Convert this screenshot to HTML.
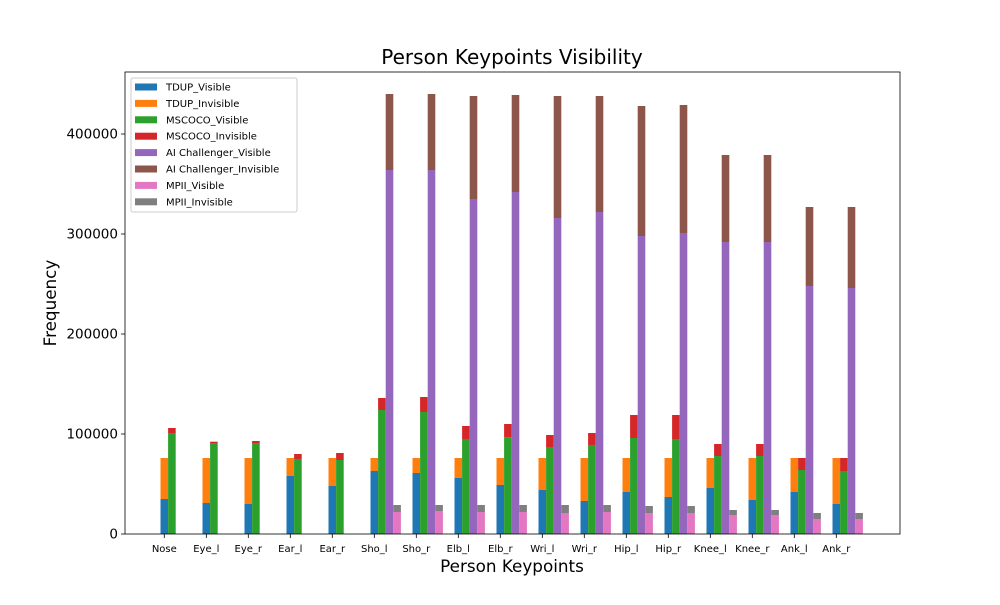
<!DOCTYPE html>
<html><head><meta charset="utf-8"><style>
body{margin:0;background:#fff;font-family:"Liberation Sans","DejaVu Sans",sans-serif}
svg text{font-family:"DejaVu Sans","Liberation Sans",sans-serif}
</style></head><body>
<svg id="c" width="1000" height="600" xmlns="http://www.w3.org/2000/svg"></svg>
<script>
const categories=["Nose","Eye_l","Eye_r","Ear_l","Ear_r","Sho_l","Sho_r","Elb_l","Elb_r","Wri_l","Wri_r","Hip_l","Hip_r","Knee_l","Knee_r","Ank_l","Ank_r"];
const tdupVisible=[35000,31000,30000,58000,48000,63000,61000,56000,49000,44000,33000,42000,37000,46000,34000,42000,30000];
const tdupInvisible=[41000,45000,46000,18000,28000,13000,15000,20000,27000,32000,43000,34000,39000,30000,42000,34000,46000];
const mscocoVisible=[100300,90300,90300,75000,74000,124000,122000,95000,96700,87000,89000,96000,95000,78000,78000,64000,63000];
const mscocoInvisible=[5700,2000,2700,5000,7000,12000,15000,13000,13300,12000,12000,23000,24000,12000,12000,12000,13000];
const aiVisible=[0,0,0,0,0,364000,364000,335000,342000,316000,322000,298000,301000,292000,292000,248000,246000];
const aiInvisible=[0,0,0,0,0,76000,76000,103000,97000,122000,116000,130000,128000,87000,87000,79000,81000];
const mpiiVisible=[0,0,0,0,0,22000,23000,22000,22000,21000,22000,21000,21000,19000,19000,15000,15000];
const mpiiInvisible=[0,0,0,0,0,7000,6000,7000,7000,8000,7000,7000,7000,5000,5000,6000,6000];
const yTicks=[0,100000,200000,300000,400000];
const seriesNames=["TDUP_Visible","TDUP_Invisible","MSCOCO_Visible","MSCOCO_Invisible","AI Challenger_Visible","AI Challenger_Invisible","MPII_Visible","MPII_Invisible"];
const colors=["#1f77b4","#ff7f0e","#2ca02c","#d62728","#9467bd","#8c564b","#e377c2","#7f7f7f"];

const NS="http://www.w3.org/2000/svg",svg=document.getElementById('c');
const L=125,R=900,T=72,B=534;
const y=v=>B-v/1000;
const x=i=>164.3+i*42;
const bw=7.6;
function mk(t,a,p){const e=document.createElementNS(NS,t);for(const k in a)e.setAttribute(k,a[k]);(p||svg).appendChild(e);return e;}

let t=mk('text',{x:512,y:64,'text-anchor':'middle','font-size':20});t.textContent="Person Keypoints Visibility";


const groups=[[tdupVisible,tdupInvisible],[mscocoVisible,mscocoInvisible],[aiVisible,aiInvisible],[mpiiVisible,mpiiInvisible]];
const gnames=["tdup","mscoco","ai-challenger","mpii"];
categories.forEach((c,i)=>{
  groups.forEach((g,gi)=>{
    const bx=x(i)-bw/2+gi*bw;
    const v=g[0][i],w=g[1][i];
    if(v>0){const r=mk('rect',{x:bx,y:y(v),width:bw,height:B-y(v),fill:colors[gi*2]});
      
      }
    if(w>0){const r=mk('rect',{x:bx,y:y(v+w),width:bw,height:y(v)-y(v+w),fill:colors[gi*2+1]});
      
      }
  });
  mk('line',{x1:x(i),x2:x(i),y1:B,y2:B+4,stroke:'#000','stroke-width':0.8});
  const lb=mk('text',{x:x(i),y:B+18,'text-anchor':'middle','font-size':10});lb.textContent=c;
  
});
yTicks.forEach(v=>{
  mk('line',{x1:L-4,x2:L,y1:y(v),y2:y(v),stroke:'#000','stroke-width':0.8});
  const lb=mk('text',{x:L-7,y:y(v)+4.5,'text-anchor':'end','font-size':13.5});lb.textContent=v;
  
});
const ax=mk('rect',{x:L,y:T,width:R-L,height:B-T,fill:'none',stroke:'#000','stroke-width':0.8});

let xt=mk('text',{x:512,y:572,'text-anchor':'middle','font-size':16.8});xt.textContent="Person Keypoints";

let yt=mk('text',{x:56,y:303,'text-anchor':'middle','font-size':16.8,transform:'rotate(-90 56 303)'});yt.textContent="Frequency";


const lg=mk('g',{});

mk('rect',{x:131,y:78,width:166,height:134,rx:2,fill:'#fff',stroke:'#ccc','stroke-width':1},lg);
seriesNames.forEach((n,k)=>{
  const yy=87+k*16.4;
  const e=mk('g',{},lg);
  
  mk('rect',{x:135,y:yy-3.5,width:22,height:7,fill:colors[k]},e);
  const tx=mk('text',{x:166,y:yy+3.5,'font-size':10},e);tx.textContent=n;
});
</script>
</body></html>
